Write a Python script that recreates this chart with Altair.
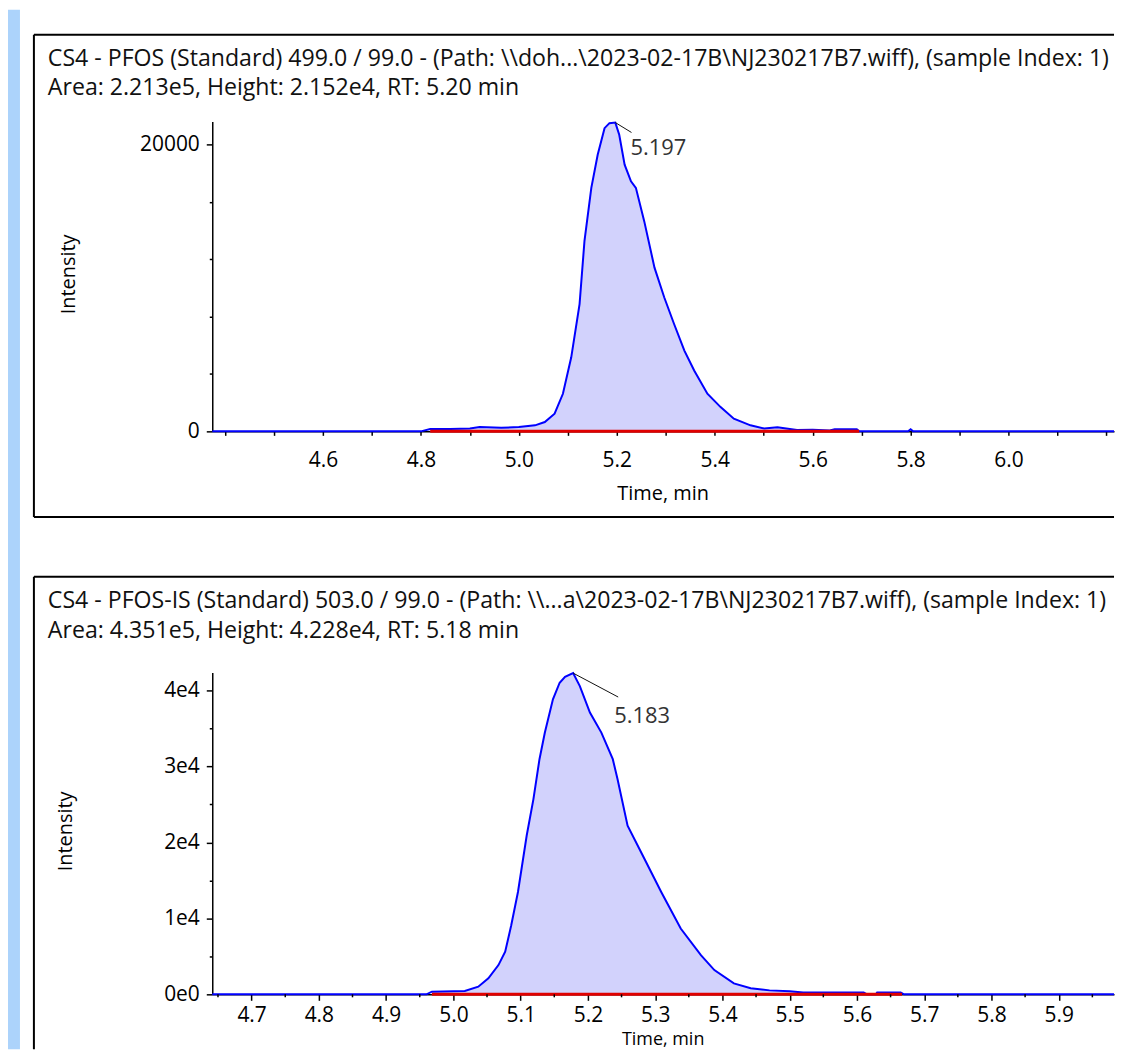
import altair as alt
import pandas as pd

FONT = "Open Sans"

# ---------------- Panel 1 : PFOS ----------------
p1_title1 = r"CS4 - PFOS (Standard) 499.0 / 99.0 - (Path: \\doh...\2023-02-17B\NJ230217B7.wiff), (sample Index: 1)"
p1_title2 = "Area: 2.213e5, Height: 2.152e4, RT: 5.20 min"
p1_time = [4.374, 4.80, 4.819, 4.86, 4.90, 4.92, 4.964, 5.00, 5.033, 5.053, 5.073, 5.090,
           5.107, 5.124, 5.134, 5.148, 5.161, 5.175, 5.185, 5.197, 5.205, 5.216, 5.229,
           5.239, 5.256, 5.277, 5.297, 5.317, 5.338, 5.358, 5.385, 5.412, 5.439, 5.473,
           5.501, 5.528, 5.568, 5.600, 5.635, 5.645, 5.690, 5.695, 5.795, 5.800, 5.805, 6.2153]
p1_intensity = [0, 0, 170, 170, 200, 300, 250, 300, 420, 650, 1230, 2620,
                5160, 8870, 13260, 16970, 19280, 21130, 21480, 21520, 20670, 18590, 17430,
                16970, 14650, 11410, 9330, 7480, 5630, 4240, 2620, 1690, 880, 420,
                200, 280, 100, 120, 60, 150, 150, 0, 0, 150, 0, 0]
p1_tdom = [4.374, 6.2153]
p1_ydom = [0, 21597]
p1_base = [4.819, 5.695]
p1_peak = [5.197, 21520]
p1_lead_end = [5.230, 20830]
p1_peak_label = "5.197"
p1_xticks = [4.4, 4.5, 4.6, 4.7, 4.8, 4.9, 5.0, 5.1, 5.2, 5.3, 5.4, 5.5, 5.6, 5.7, 5.8,
             5.9, 6.0, 6.1, 6.2]
p1_xlabels = ["4.60", "4.80", "5.00", "5.20", "5.40", "5.60", "5.80", "6.00"]
p1_xminor = []
p1_yticks = list(range(0, 21001, 1000))

# ---------------- Panel 2 : PFOS-IS ----------------
p2_title1 = r"CS4 - PFOS-IS (Standard) 503.0 / 99.0 - (Path: \\...a\2023-02-17B\NJ230217B7.wiff), (sample Index: 1)"
p2_title2 = "Area: 4.351e5, Height: 4.228e4, RT: 5.18 min"
p2_time = [4.6415, 4.960, 4.968, 5.017, 5.037, 5.052, 5.067, 5.077, 5.086, 5.096, 5.109,
           5.119, 5.128, 5.136, 5.148, 5.158, 5.166, 5.178, 5.188, 5.203, 5.220, 5.237,
           5.244, 5.259, 5.284, 5.309, 5.338, 5.368, 5.388, 5.417, 5.442, 5.470, 5.500,
           5.520, 5.610, 5.615, 5.628, 5.630, 5.665, 5.670, 5.9822]
p2_intensity = [0, 0, 350, 440, 1000, 2100, 3850, 5600, 9090, 13470, 20900,
                25700, 30950, 34450, 38820, 41010, 41800, 42280, 40570, 37080, 34450, 30950,
                28330, 22200, 17840, 13470, 8660, 5150, 3190, 1440, 790, 520, 400,
                250, 230, 0, 0, 230, 230, 0, 0]
p2_tdom = [4.6415, 5.9822]
p2_ydom = [0, 42361]
p2_base = [4.968, 5.667]
p2_peak = [5.178, 42280]
p2_lead_end = [5.245, 39130]
p2_peak_label = "5.183"
p2_xticks = [4.7, 4.8, 4.9, 5.0, 5.1, 5.2, 5.3, 5.4, 5.5, 5.6, 5.7, 5.8, 5.9]
p2_xlabels = ["4.70", "4.80", "4.90", "5.00", "5.10", "5.20", "5.30", "5.40", "5.50",
              "5.60", "5.70", "5.80", "5.90"]
p2_xminor = [4.65, 4.75, 4.85, 4.95, 5.05, 5.15, 5.25, 5.35, 5.45, 5.55, 5.65, 5.75,
             5.85, 5.95]
p2_yticks = list(range(0, 40001, 5000))

one = pd.DataFrame({"k": [0]})


def in_list(labels):
    arr = "[" + ",".join("'" + s + "'" for s in labels) + "]"
    return "indexof(" + arr + ", format(datum.value, '.2f')) >= 0"


def build_panel(time, inten, tdom, ydom, base, peak, lead_end, peak_label,
                title1, title2, xticks, xlabels, x_tick, xminor,
                yticks, ylabel_expr, y_major_test, width, height, d):
    df = pd.DataFrame({"t": time, "v": inten})
    xs = alt.Scale(domain=tdom, nice=False, zero=False)
    ys = alt.Scale(domain=ydom, nice=False, zero=False)

    x_axis = alt.Axis(
        values=xticks,
        labelExpr=in_list(xlabels) + " ? format(datum.value, '.1f') : ''",
        tickSize=x_tick,
        title="Time, min", titleX=d["xtitle_x"], titleY=d["xtitle_y"],
        titleFontSize=d["xtitle_size"],
        titleBaseline="middle", titleAlign="center",
        labelPadding=d["xlabel_pad"], labelFlush=False, labelOverlap=False, grid=False)
    y_axis = alt.Axis(
        values=yticks, labelExpr=ylabel_expr,
        tickSize={"condition": {"test": y_major_test, "value": 6}, "value": 3},
        title="Intensity", titleX=d["ytitle_x"], titleY=d["ytitle_y"], titleAngle=-90,
        titleBaseline="middle", titleAlign="center",
        labelPadding=7, labelFlush=False, labelOverlap=False, grid=False)

    area = alt.Chart(df).transform_filter(
        (alt.datum.t >= base[0]) & (alt.datum.t <= base[1])
    ).mark_area(color="#d2d2fc", opacity=1, interpolate="linear").encode(
        x=alt.X("t:Q", scale=xs, axis=x_axis),
        y=alt.Y("v:Q", scale=ys, axis=y_axis),
    )
    trace = alt.Chart(df).mark_line(color="#0000ff", strokeWidth=2).encode(
        x=alt.X("t:Q", scale=xs), y=alt.Y("v:Q", scale=ys))
    base_df = pd.DataFrame({"t0": [base[0]], "t1": [base[1]], "y0": [0]})
    baseline = alt.Chart(base_df).mark_rule(color="#e00000", strokeWidth=3).encode(
        x=alt.X("t0:Q", scale=xs), x2="t1:Q", y=alt.Y("y0:Q", scale=ys))
    lead_df = pd.DataFrame({"t0": [peak[0]], "v0": [peak[1]], "t1": [lead_end[0]],
                            "v1": [lead_end[1]], "lab": [peak_label]})
    leader = alt.Chart(lead_df).mark_rule(color="#111111", strokeWidth=1).encode(
        x=alt.X("t0:Q", scale=xs), y=alt.Y("v0:Q", scale=ys), x2="t1:Q", y2="v1:Q")
    plabel = alt.Chart(lead_df).mark_text(
        align="left", baseline="middle", dx=d["lab_dx"], dy=d["lab_dy"],
        fontSize=22, font=FONT, color="#333333").encode(
        x=alt.X("t1:Q", scale=xs), y=alt.Y("v1:Q", scale=ys), text="lab:N")

    marks = [area, trace, baseline, leader, plabel]
    if xminor:
        marks.append(alt.Chart(pd.DataFrame({"t": xminor})).mark_rule(
            color="#000000", strokeWidth=1.5).encode(
            x=alt.X("t:Q", scale=xs), y=alt.value(height), y2=alt.value(height + 3)))

    rule_style = dict(color="#000000", strokeWidth=2)
    box_left = alt.Chart(one).mark_rule(**rule_style).encode(
        x=alt.value(-179), y=alt.value(d["box_top"]), y2=alt.value(d["box_bottom"]))
    box_top = alt.Chart(one).mark_rule(**rule_style).encode(
        x=alt.value(-179), x2=alt.value(905), y=alt.value(d["box_top"]))
    layers = [box_left, box_top]
    if d.get("box_has_bottom"):
        layers.append(alt.Chart(one).mark_rule(**rule_style).encode(
            x=alt.value(-179), x2=alt.value(905), y=alt.value(d["box_bottom"])))
    if d.get("bar"):
        layers.append(alt.Chart(one).mark_rect(color="#acd3fb").encode(
            x=alt.value(-205), x2=alt.value(-193), y=alt.value(-112), y2=alt.value(931)))
    txt = dict(align="left", baseline="middle", fontSize=23.2, font=FONT, color="#111111",
               limit=1070, ellipsis="\u200b")
    layers.append(alt.Chart(one).mark_text(**txt).encode(
        x=alt.value(-165), y=alt.value(d["t1_y"]), text=alt.value(title1)))
    layers.append(alt.Chart(one).mark_text(**txt).encode(
        x=alt.value(-165), y=alt.value(d["t2_y"]), text=alt.value(title2)))

    return alt.layer(*marks, *layers).properties(width=width, height=height)


p1 = build_panel(
    p1_time, p1_intensity, p1_tdom, p1_ydom, p1_base, p1_peak, p1_lead_end, p1_peak_label,
    p1_title1, p1_title2, p1_xticks, p1_xlabels, 4, p1_xminor,
    p1_yticks, "datum.value % 5000 === 0 ? format(datum.value, 'd') : ''",
    "datum.value % 5000 === 0", 905, 311,
    dict(xtitle_x=452, xtitle_y=62, xtitle_size=20, xlabel_pad=14, ytitle_x=-144,
         ytitle_y=153, lab_dx=-1, lab_dy=16, box_top=-87, box_bottom=397,
         box_has_bottom=True, bar=True, t1_y=-63, t2_y=-34))

p2 = build_panel(
    p2_time, p2_intensity, p2_tdom, p2_ydom, p2_base, p2_peak, p2_lead_end, p2_peak_label,
    p2_title1, p2_title2, p2_xticks, p2_xlabels, 6, p2_xminor,
    p2_yticks,
    "datum.value === 0 ? '0e0' : (datum.value % 10000 === 0 ? (datum.value / 10000) + 'e4' : '')",
    "datum.value % 10000 === 0", 905, 323,
    dict(xtitle_x=452, xtitle_y=45, xtitle_size=18, xlabel_pad=4, ytitle_x=-147,
         ytitle_y=159, lab_dx=-4, lab_dy=19, box_top=-96, box_bottom=378,
         box_has_bottom=False, bar=False, t1_y=-72, t2_y=-42))

chart = alt.vconcat(p1, p2, spacing=242, bounds="flush").resolve_scale(
    x="independent", y="independent"
).properties(padding=0, background="#ffffff").configure_view(stroke=None).configure_axis(
    domainColor="#000000", domainWidth=1.5, tickColor="#000000", tickWidth=1.5,
    labelColor="#000000", labelFont=FONT, labelFontSize=21, labelOverlap=False,
    titleColor="#000000", titleFont=FONT, titleFontSize=20, titleFontWeight="normal"
)

chart.save("out.html", embed_options={"renderer": "svg", "actions": False})
